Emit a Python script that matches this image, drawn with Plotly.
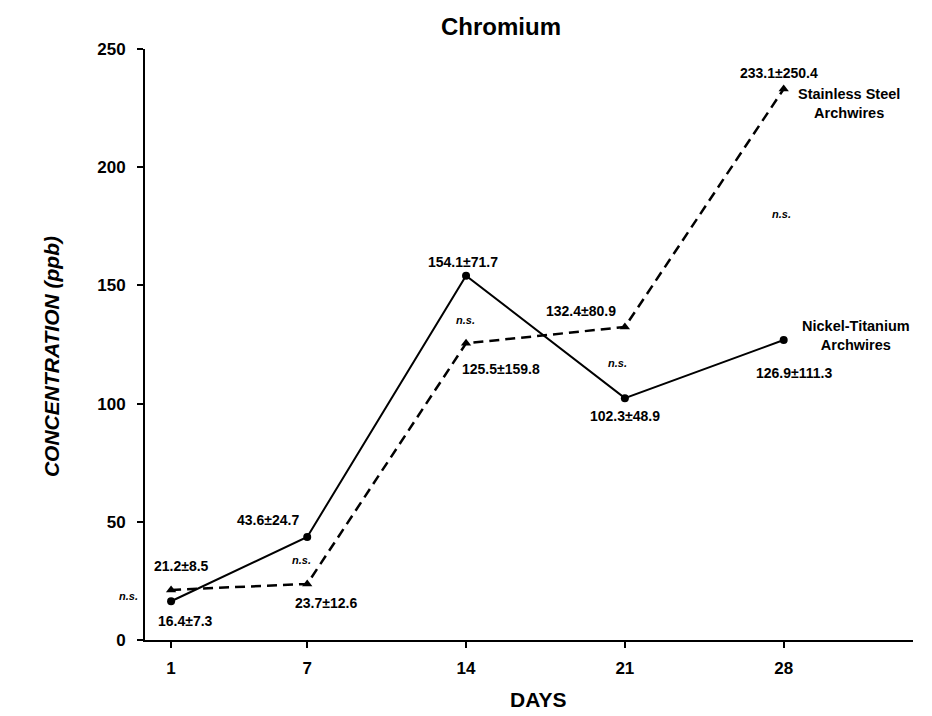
import plotly.graph_objects as go

days = [1, 7, 14, 21, 28]
niti = [16.4, 43.6, 154.1, 102.3, 126.9]
steel = [21.2, 23.7, 125.5, 132.4, 233.1]
niti_labels = ["16.4±7.3", "43.6±24.7", "154.1±71.7", "102.3±48.9", "126.9±111.3"]
steel_labels = ["21.2±8.5", "23.7±12.6", "125.5±159.8", "132.4±80.9", "233.1±250.4"]
ns_labels = ["n.s.", "n.s.", "n.s.", "n.s.", "n.s."]
y_ticks = [0, 50, 100, 150, 200, 250]

FONT = "Liberation Sans, Arial, sans-serif"

# label offsets in pixels (styling, not data)
niti_off = [(14, 20), (-39, -17), (-3, -14), (0, 18), (10, 33)]
steel_off = [(10, -24), (19, 19), (35, 26), (-44, -16), (-5, -16)]
ns_off = [(-43, 0), (-6, 0), (-1, -10), (-7, 0), (-2, 0)]

fig = go.Figure()
fig.add_trace(go.Scatter(
    x=days, y=steel, mode="lines+markers", name="Stainless Steel Archwires",
    line=dict(color="black", width=2.5, dash="10px,6px"),
    marker=dict(symbol="triangle-up", size=9, color="black"),
))
fig.add_trace(go.Scatter(
    x=days, y=niti, mode="lines+markers", name="Nickel-Titanium Archwires",
    line=dict(color="black", width=2),
    marker=dict(symbol="circle", size=8, color="black"),
))

ann = []
for d, v, t, (dx, dy) in zip(days, niti, niti_labels, niti_off):
    ann.append(dict(x=d, y=v, text="<b>" + t + "</b>", showarrow=False,
                    xshift=dx, yshift=-dy, font=dict(size=14, color="black", family=FONT)))
for d, v, t, (dx, dy) in zip(days, steel, steel_labels, steel_off):
    ann.append(dict(x=d, y=v, text="<b>" + t + "</b>", showarrow=False,
                    xshift=dx, yshift=-dy, font=dict(size=14, color="black", family=FONT)))
for d, a, b, t, (dx, dy) in zip(days, niti, steel, ns_labels, ns_off):
    ann.append(dict(x=d, y=(a + b) / 2, text="<b><i>" + t + "</i></b>", showarrow=False,
                    xshift=dx, yshift=dy, font=dict(size=11, color="black", family=FONT)))

ann.append(dict(x=days[-1], y=steel[-1], text="<b>Stainless Steel<br>Archwires</b>",
                showarrow=False, xshift=65, yshift=-15, align="center",
                font=dict(size=14.5, color="black", family=FONT)))
ann.append(dict(x=days[-1], y=niti[-1], text="<b>Nickel-Titanium<br>Archwires</b>",
                showarrow=False, xshift=72, yshift=5, align="center",
                font=dict(size=14.5, color="black", family=FONT)))

ann.append(dict(xref="paper", yref="paper", x=-0.139, y=0.48, textangle=-90,
                text="<b><i>CONCENTRATION (ppb)</i></b>", showarrow=False,
                font=dict(size=21, color="black", family=FONT)))
ann.append(dict(xref="paper", yref="paper", x=0.512, y=-0.1235,
                text="<b>DAYS</b>", showarrow=False,
                font=dict(size=21, color="black", family=FONT)))

fig.update_layout(
    width=932, height=716,
    margin=dict(l=137, r=27, t=41, b=84),
    paper_bgcolor="white", plot_bgcolor="white",
    showlegend=False,
    title=dict(text="<b>Chromium</b>", x=0.529, xanchor="center", y=1 - 19 / 716,
               yanchor="middle", font=dict(size=24, color="black", family=FONT)),
    annotations=ann,
    font=dict(family=FONT, color="black"),
)
fig.update_xaxes(
    range=[-0.15, 33.7], tickmode="array", tickvals=days,
    ticktext=["<b>%d</b>" % d for d in days],
    showgrid=False, zeroline=False, showline=True, linecolor="black", linewidth=2,
    ticks="outside", ticklen=6, tickwidth=2, tickcolor="black", ticklabelstandoff=6,
    tickfont=dict(size=17, color="black", family=FONT),
)
fig.update_yaxes(
    range=[0, 250], tickmode="array", tickvals=y_ticks,
    ticktext=["<b>%d</b>" % t for t in y_ticks],
    showgrid=False, zeroline=False, showline=True, linecolor="black", linewidth=2,
    ticks="outside", ticklen=6, tickwidth=2, tickcolor="black", ticklabelstandoff=8,
    tickfont=dict(size=17, color="black", family=FONT),
)

fig.write_html("out.html")
